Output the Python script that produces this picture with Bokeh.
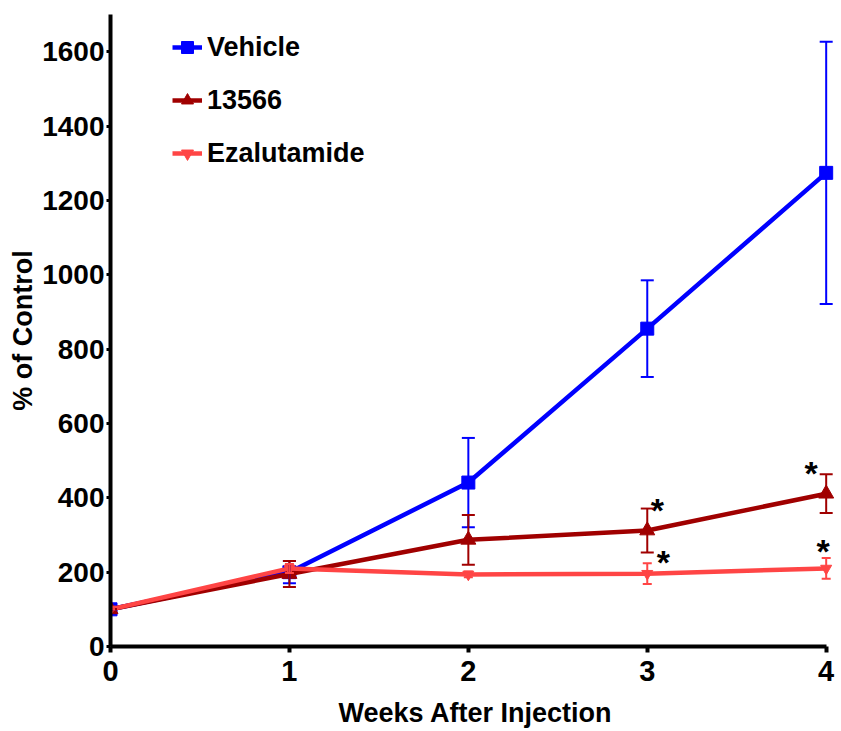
from bokeh.plotting import figure
from bokeh.models import (ColumnDataSource, Range1d, FixedTicker, Whisker, TeeHead,
                          Legend, LegendItem)
from bokeh.core.properties import value
from bokeh.embed import file_html
from bokeh.resources import INLINE

# ---------------- data ----------------
weeks = [0, 1, 2, 3, 4]
series_names = ["Vehicle", "13566", "Ezalutamide"]
vehicle_mean = [100, 200, 441, 855, 1274]
vehicle_err = [0, 30, 120, 130, 353]
c13566_mean = [100, 195, 287, 312, 411]
c13566_err = [0, 35, 67, 59, 52]
ezalutamide_mean = [100, 210, 194, 196, 210]
ezalutamide_err = [0, 12, 8, 28, 28]

y_ticks = [0, 200, 400, 600, 800, 1000, 1200, 1400, 1600]
x_ticks = [0, 1, 2, 3, 4]

# significance marks: (series index, week index)
sig_series = [1, 2, 1, 2]
sig_weeks = [3, 3, 4, 4]

# ---------------- style ----------------
FONT = "Liberation Sans"
colors = ["#0000FF", "#A00000", "#FF4545"]
markers = ["square", "triangle", "inverted_triangle"]
msizes = [13, 15, 11]
cap_sizes = [13, 13, 9]
sig_offsets = [(10, 1), (16, -1), (-15, -1), (-3, -7)]

p = figure(width=841, height=731, output_backend="svg", toolbar_location=None,
           x_range=Range1d(0, 4.08), y_range=Range1d(0, 1700),
           min_border_left=110, min_border_right=1, min_border_top=14,
           min_border_bottom=85)
p.outline_line_color = None
p.grid.visible = False
p.background_fill_color = "white"
p.border_fill_color = "white"

for ax in (p.xaxis[0], p.yaxis[0]):
    ax.axis_line_width = 4
    ax.axis_line_color = "black"
    ax.major_tick_line_color = "black"
    ax.minor_tick_line_color = None
    ax.major_tick_in = 0
    ax.major_label_text_font = FONT
    ax.major_label_text_font_style = "bold"
    ax.major_label_text_color = "black"
    ax.axis_label_text_font = FONT
    ax.axis_label_text_font_style = "bold"
    ax.axis_label_text_color = "black"
    ax.axis_label_text_font_size = "27px"

p.xaxis.bounds = (0, 4)
p.yaxis.bounds = (0, 1700)
p.xaxis.ticker = FixedTicker(ticks=x_ticks)
p.yaxis.ticker = FixedTicker(ticks=y_ticks)
p.xaxis.major_tick_out = 6
p.xaxis.major_tick_line_width = 4
p.yaxis.major_tick_out = 4
p.yaxis.major_tick_line_width = 3
p.xaxis.major_label_text_font_size = "29px"
p.yaxis.major_label_text_font_size = "28px"
p.xaxis.major_label_standoff = 8
p.yaxis.major_label_standoff = 2
p.xaxis.axis_label = "Weeks After Injection"
p.yaxis.axis_label = "% of Control"
p.xaxis.axis_label_standoff = 14
p.yaxis.axis_label_standoff = 1

means = [vehicle_mean, c13566_mean, ezalutamide_mean]
errs = [vehicle_err, c13566_err, ezalutamide_err]

items = []
for i, name in enumerate(series_names):
    src = ColumnDataSource(dict(
        x=weeks, y=means[i],
        upper=[m + e for m, e in zip(means[i], errs[i])],
        lower=[m - e for m, e in zip(means[i], errs[i])],
    ))
    w = Whisker(base="x", upper="upper", lower="lower", source=src,
                line_color=colors[i], line_width=2, level="glyph",
                upper_head=TeeHead(size=cap_sizes[i], line_color=colors[i], line_width=2),
                lower_head=TeeHead(size=cap_sizes[i], line_color=colors[i], line_width=2))
    p.add_layout(w)
    lr = p.line("x", "y", source=src, line_color=colors[i], line_width=4.5)
    mr = p.scatter("x", "y", source=src, marker=markers[i], size=msizes[i],
                   fill_color=colors[i], line_color=colors[i])
    items.append(LegendItem(label=name, renderers=[lr, mr]))

legend = Legend(items=items, location=(62, 477), padding=0, margin=0,
                spacing=21, glyph_width=30, glyph_height=32, label_height=32,
                label_standoff=5, label_text_font=FONT, label_text_font_style="bold",
                label_text_font_size="27px", label_text_color="black",
                background_fill_alpha=0, border_line_alpha=0)
p.add_layout(legend, "center")

# significance asterisks, placed at the top of the error bars
sig_src = ColumnDataSource(dict(
    x=[weeks[w] for w in sig_weeks],
    y=[means[s][w] + errs[s][w] for s, w in zip(sig_series, sig_weeks)],
    t=["*"] * len(sig_weeks),
    xo=[o[0] for o in sig_offsets],
    yo=[o[1] for o in sig_offsets],
))
p.text("x", "y", text="t", source=sig_src, x_offset="xo", y_offset="yo",
       text_font=value(FONT), text_font_style="bold", text_font_size="34px",
       text_align="center", text_baseline="middle", text_color="black")

open("out.html", "w").write(file_html(p, INLINE))
